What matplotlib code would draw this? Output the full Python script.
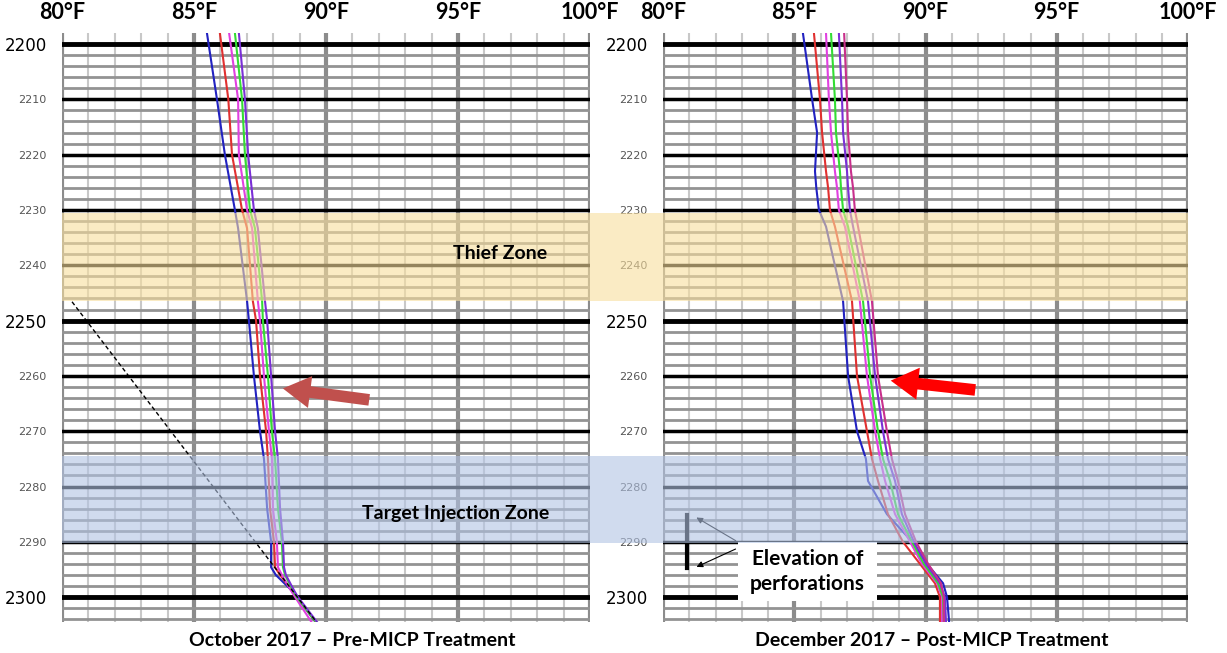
import numpy as np
import matplotlib
matplotlib.use("Agg")
from matplotlib import pyplot as plt
from matplotlib import transforms
from matplotlib.patches import Rectangle

depth_oct = [2198, 2210, 2220, 2230, 2233.3, 2246.5, 2250, 2260, 2270, 2275,
             2284, 2290, 2294.6, 2296, 2298.8, 2300, 2304.5]
oct_blue = [85.49, 85.87, 86.17, 86.55, 86.67, 87.01, 87.08, 87.27, 87.50, 87.65,
            87.77, 87.92, 87.92, 88.10, 88.70, 88.90, 89.60]
oct_red = [85.98, 86.30, 86.44, 86.82, 87.01, 87.23, 87.35, 87.50, 87.73, 87.80,
           87.88, 88.03, 88.07, 88.26, 88.71, 88.90, 89.62]
oct_magenta = [86.33, 86.67, 86.70, 87.01, 87.20, 87.42, 87.50, 87.65, 87.84, 87.95,
               87.99, 88.14, 88.18, 88.33, 88.67, 88.83, 89.45]
oct_green = [86.55, 86.82, 86.93, 87.12, 87.31, 87.58, 87.61, 87.80, 87.95, 88.07,
             88.18, 88.33, 88.37, 88.45, 88.75, 88.90, 89.62]
oct_purple = [86.70, 86.93, 87.05, 87.27, 87.42, 87.69, 87.77, 87.92, 88.07, 88.18,
              88.26, 88.37, 88.41, 88.48, 88.79, 88.94, 89.66]

depth_dec = [2198, 2210, 2216, 2223, 2226, 2230, 2233, 2246.5, 2260, 2270, 2275,
             2279, 2285, 2290, 2294, 2297.5, 2300, 2304.5]
dec_blue = [85.33, 85.68, 85.87, 85.79, 85.84, 85.94, 86.21, 86.86, 87.05, 87.39, 87.73,
            87.81, 88.53, 89.49, 90.06, 90.67, 90.82, 90.90]
dec_red = [85.75, 85.98, 86.06, 86.21, 86.29, 86.36, 86.55, 87.20, 87.39, 87.77, 87.96,
           88.19, 88.57, 89.14, 89.79, 90.36, 90.55, 90.55]
dec_magenta = [86.21, 86.32, 86.40, 86.55, 86.63, 86.70, 86.93, 87.50, 87.77, 88.08, 88.27,
               88.46, 88.84, 89.41, 89.87, 90.44, 90.63, 90.63]
dec_green = [86.40, 86.55, 86.59, 86.74, 86.78, 86.86, 87.05, 87.62, 87.89, 88.19, 88.38,
             88.65, 88.95, 89.49, 89.94, 90.48, 90.67, 90.70]
dec_purple = [86.70, 86.82, 86.86, 87.01, 87.05, 87.12, 87.24, 87.81, 88.08, 88.38, 88.57,
              88.84, 89.10, 89.56, 90.02, 90.55, 90.74, 90.78]
dec_crimson = [86.90, 87.01, 87.05, 87.16, 87.24, 87.31, 87.43, 87.96, 88.19, 88.53, 88.72,
               88.95, 89.22, 89.64, 90.10, 90.59, 90.70, 90.70]

# dashed reference line on the October log
ref_temp = [80.38, 89.70]
ref_depth = [2246.6, 2304.9]

# zones (ft)
thief_zone = (2230.5, 2246.5)
target_zone = (2274.4, 2290.2)
perf_interval = (2285.2, 2294.8)

x_ticks = [80, 85, 90, 95, 100]
x_labels = ["80°F", "85°F", "90°F", "95°F", "100°F"]
y_ticks = [2200, 2210, 2220, 2230, 2240, 2250, 2260, 2270, 2280, 2290, 2300]
titles = ["October 2017 – Pre-MICP Treatment", "December 2017 – Post-MICP Treatment"]

BOLD = ["Lato", "DejaVu Sans"]

fig = plt.figure(figsize=(12.27, 6.53), dpi=100)
W, H = 1227, 653
ax1 = fig.add_axes([62 / W, 1 - 622 / H, 528 / W, 589 / H])
ax2 = fig.add_axes([663 / W, 1 - 622 / H, 525 / W, 589 / H])


def setup_log(ax):
    "grid of the log track"
    ax.set_xlim(80, 100)
    ax.set_ylim(2304.5, 2198)
    for s in ax.spines.values():
        s.set_visible(False)
    for t in range(80, 101):
        if t % 5 == 0:
            ax.axvline(t, color="#8c8c8c", lw=3, zorder=1)
        else:
            ax.axvline(t, color="#c8c8c8", lw=1.5, zorder=1)
    for d in range(2200, 2305, 2):
        if d % 50 == 0:
            ax.axhline(d, color="black", lw=3.5, zorder=1.5)
        elif d % 10 == 0:
            ax.axhline(d, color="black", lw=2.5, zorder=1.5)
        else:
            ax.axhline(d, color="#939393", lw=2.0, zorder=1.2)
    ax.xaxis.tick_top()
    ax.set_xticks(x_ticks)
    ax.set_xticklabels(x_labels, fontsize=15.5, fontweight="bold", family=BOLD)
    ax.set_yticks(y_ticks)
    labs = []
    for d in y_ticks:
        labs.append(str(d))
    ax.set_yticklabels(labs)
    for d, lab in zip(y_ticks, ax.get_yticklabels()):
        lab.set_family("DejaVu Sans")
        if d % 50 == 0:
            lab.set_fontsize(12)
            lab.set_color("black")
        else:
            lab.set_fontsize(8)
            lab.set_color("#555555")
    ax.tick_params(axis="both", length=0)
    ax.tick_params(axis="x", pad=7)
    ax.tick_params(axis="y", pad=11)


setup_log(ax1)
setup_log(ax2)

lw = 1.5
ax1.plot(oct_blue, depth_oct, color="#2222c0", lw=lw, zorder=3)
ax1.plot(oct_red, depth_oct, color="#e03030", lw=lw, zorder=3)
ax1.plot(oct_magenta, depth_oct, color="#e040e0", lw=lw, zorder=3)
ax1.plot(oct_green, depth_oct, color="#33dd33", lw=lw, zorder=3)
ax1.plot(oct_purple, depth_oct, color="#7a2fd6", lw=lw, zorder=3)
ax1.plot(ref_temp, ref_depth, color="black", lw=1, ls=(0, (3, 2)), zorder=3)

ax2.plot(dec_blue, depth_dec, color="#2222c0", lw=lw, zorder=3)
ax2.plot(dec_red, depth_dec, color="#e03030", lw=lw, zorder=3)
ax2.plot(dec_magenta, depth_dec, color="#e040e0", lw=lw, zorder=3)
ax2.plot(dec_green, depth_dec, color="#33dd33", lw=lw, zorder=3)
ax2.plot(dec_purple, depth_dec, color="#7a2fd6", lw=lw, zorder=3)
ax2.plot(dec_crimson, depth_dec, color="#c8308c", lw=lw, zorder=3)

# block arrows pointing at the curves
block = "simple,head_width=1.05,head_length=0.9,tail_width=0.38"
ax1.annotate("", xy=(88.26, 2262.2), xytext=(91.74, 2264.4),
             arrowprops=dict(arrowstyle=block, color="#c0504d", lw=0, mutation_scale=22),
             zorder=6)
ax2.annotate("", xy=(88.57, 2260.8), xytext=(92.0, 2262.6),
             arrowprops=dict(arrowstyle=block, color="#ff0000", lw=0, mutation_scale=22),
             zorder=6)

# perforations
ax2.plot([80.91, 80.91], perf_interval, color="black", lw=3, zorder=4)
ax2.add_patch(Rectangle((82.86, 2290.05), 5.3, 10.6, facecolor="white", edgecolor="none", zorder=5))
ax2.text(85.5, 2295.4, "Elevation of\nperforations", ha="center", va="center",
         fontsize=15, fontweight="bold", family=BOLD, linespacing=1.35, zorder=6)
ax2.annotate("", xy=(81.18, 2285.35), xytext=(82.86, 2290.05),
             arrowprops=dict(arrowstyle="-|>", color="black", lw=0.8, mutation_scale=9), zorder=6)
ax2.annotate("", xy=(81.18, 2294.75), xytext=(82.86, 2291.1),
             arrowprops=dict(arrowstyle="-|>", color="black", lw=0.8, mutation_scale=9), zorder=6)

# zone bands run across both tracks and the gap, drawn over everything
band_tr = transforms.blended_transform_factory(fig.transFigure, ax1.transData)
x0 = 62 / W
x1 = 1188 / W
fig.add_artist(Rectangle((x0, thief_zone[0]), x1 - x0, thief_zone[1] - thief_zone[0],
                         transform=band_tr, facecolor="#f8de9d", alpha=0.6,
                         edgecolor="none", zorder=2))
fig.add_artist(Rectangle((x0, target_zone[0]), x1 - x0, target_zone[1] - target_zone[0],
                         transform=band_tr, facecolor="#b1c3e3", alpha=0.6,
                         edgecolor="none", zorder=2))

fig.text(500 / W, 1 - 253 / H, "Thief Zone", ha="center", va="center",
         fontsize=14, fontweight="bold", family=BOLD, zorder=3)
fig.text(456 / W, 1 - 513 / H, "Target Injection Zone", ha="center", va="center",
         fontsize=14, fontweight="bold", family=BOLD, zorder=3)

fig.text(352 / W, 1 - 640 / H, titles[0], ha="center", va="center",
         fontsize=14, fontweight="bold", family=BOLD)
fig.text(932 / W, 1 - 640 / H, titles[1], ha="center", va="center",
         fontsize=14, fontweight="bold", family=BOLD)

fig.savefig("out.png", dpi=100)
